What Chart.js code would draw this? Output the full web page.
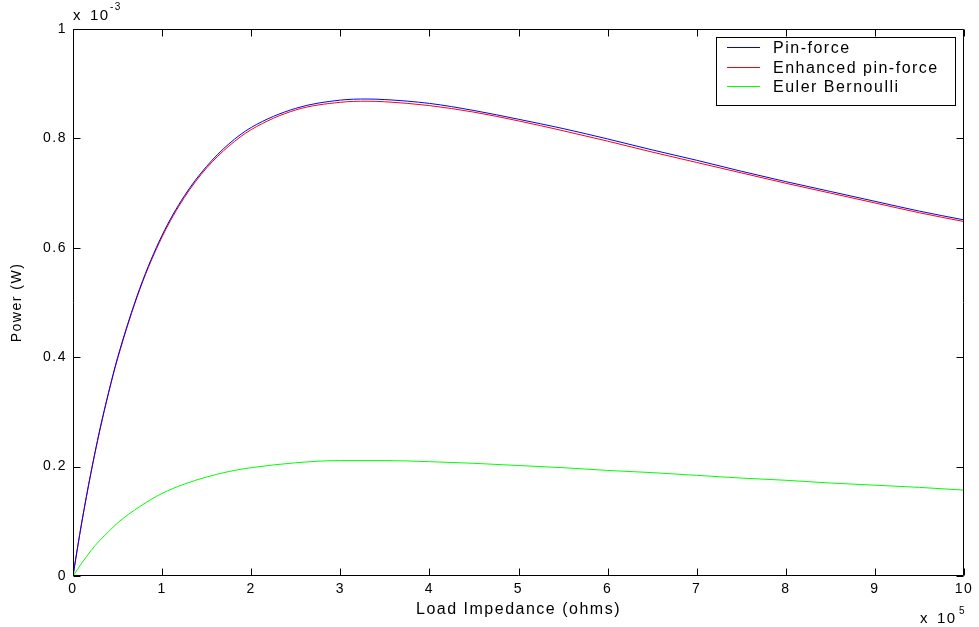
<!DOCTYPE html>
<html><head><meta charset="utf-8">
<script src="https://cdn.jsdelivr.net/npm/chart.js@4.4.1/dist/chart.umd.min.js"></script>
<style>html,body{margin:0;padding:0;background:#fff;overflow:hidden}</style>
</head><body>
<canvas id="c" width="979" height="627"></canvas>
<script>
// Load impedance, in units of 10^5 ohms
const loadImpedance = [0, 0.05, 0.1, 0.2, 0.3, 0.4, 0.5, 0.75, 1, 1.25, 1.5, 1.75, 2, 2.5, 3, 3.3, 3.5, 4, 4.5, 5, 5.5, 6, 6.5, 7, 7.5, 8, 8.5, 9, 9.5, 10];
// Power, in units of 10^-3 W
const pinForce = [0, 0.051, 0.100, 0.188, 0.267, 0.336, 0.399, 0.526, 0.623, 0.695, 0.749, 0.790, 0.820, 0.855, 0.870, 0.872, 0.871, 0.864, 0.851, 0.835, 0.818, 0.799, 0.779, 0.760, 0.740, 0.721, 0.703, 0.685, 0.667, 0.651];
const enhancedPinForce = [0, 0.051, 0.099, 0.187, 0.265, 0.335, 0.397, 0.524, 0.620, 0.692, 0.746, 0.786, 0.816, 0.852, 0.866, 0.868, 0.867, 0.860, 0.848, 0.832, 0.814, 0.795, 0.775, 0.756, 0.737, 0.718, 0.700, 0.682, 0.664, 0.648];
const eulerBernoulli = [0, 0.012, 0.024, 0.046, 0.065, 0.081, 0.097, 0.127, 0.151, 0.168, 0.181, 0.191, 0.198, 0.207, 0.211, 0.211, 0.211, 0.209, 0.206, 0.202, 0.198, 0.193, 0.189, 0.184, 0.179, 0.175, 0.170, 0.166, 0.162, 0.157];
const seriesNames = ['Pin-force', 'Enhanced pin-force', 'Euler Bernoulli'];
const xTickValues = [0, 1, 2, 3, 4, 5, 6, 7, 8, 9, 10];
const yTickValues = [0, 0.2, 0.4, 0.6, 0.8, 1];
const xTitle = 'Load Impedance (ohms)';
const yTitle = 'Power (W)';
const xExponent = '5';
const yExponent = '-3';

const FONT = "'Liberation Sans', Arial, Helvetica, sans-serif";
const LS = '1.5px';
const colors = ['#0000ff', '#ff0000', '#00ff00'];
const seriesValues = [pinForce, enhancedPinForce, eulerBernoulli];

const toPoints = arr => arr.map((v, i) => ({x: loadImpedance[i], y: v}));

const matlabAxes = {
  id: 'matlabAxes',
  beforeDraw(chart) { chart.ctx.letterSpacing = LS; },
  afterDraw(chart) {
    const {ctx, chartArea: a, scales: {x, y}} = chart;
    const L = Math.round(a.left) + 0.5, R = Math.round(a.right) - 0.5;
    const T = Math.round(a.top) + 0.5, B = Math.round(a.bottom) - 0.5;
    ctx.save();
    ctx.strokeStyle = '#000';
    ctx.lineWidth = 1;
    ctx.beginPath();
    ctx.moveTo(L, T); ctx.lineTo(R, T); ctx.lineTo(R, B); ctx.lineTo(L, B); ctx.closePath();
    const tl = 7;
    xTickValues.forEach(v => {
      const px = Math.round(x.getPixelForValue(v)) + 0.5;
      ctx.moveTo(px, B); ctx.lineTo(px, B - tl);
      ctx.moveTo(px, T); ctx.lineTo(px, T + tl);
    });
    yTickValues.forEach(v => {
      const py = Math.round(y.getPixelForValue(v)) + 0.5;
      ctx.moveTo(L, py); ctx.lineTo(L + tl, py);
      ctx.moveTo(R, py); ctx.lineTo(R - tl, py);
    });
    ctx.stroke();

    // Legend
    ctx.fillStyle = '#fff';
    const lx0 = 716.5, ly0 = 37.5, lx1 = 955.5, ly1 = 105.5;
    ctx.fillRect(lx0, ly0, lx1 - lx0, ly1 - ly0);
    ctx.strokeStyle = '#000';
    ctx.strokeRect(lx0, ly0, lx1 - lx0, ly1 - ly0);
    ctx.font = '16px ' + FONT;
    ctx.textBaseline = 'alphabetic';
    ctx.textAlign = 'left';
    const rowBase = [53, 73, 92];
    const rowLine = [47.5, 67.5, 86.5];
    seriesNames.forEach((name, i) => {
      ctx.strokeStyle = colors[i];
      ctx.beginPath(); ctx.moveTo(727, rowLine[i]); ctx.lineTo(760, rowLine[i]); ctx.stroke();
      ctx.fillStyle = '#000';
      ctx.fillText(name, 773, rowBase[i]);
    });

    // Exponent labels
    ctx.fillStyle = '#000';
    ctx.font = '15px ' + FONT;
    ctx.fillText('x', 73, 20);
    ctx.fillText('10', 90, 20);
    ctx.font = '10px ' + FONT;
    ctx.fillText(yExponent, 110, 10);
    ctx.font = '15px ' + FONT;
    ctx.fillText('x', 920, 623);
    ctx.fillText('10', 937, 623);
    ctx.font = '10px ' + FONT;
    ctx.fillText(xExponent, 959, 614);
    ctx.restore();
  }
};

new Chart(document.getElementById('c'), {
  type: 'line',
  data: {
    datasets: seriesNames.map((name, i) => ({
      label: name,
      data: toPoints(seriesValues[i]),
      borderColor: colors[i],
      backgroundColor: colors[i],
      borderWidth: 1,
      pointRadius: 0,
      fill: false,
      cubicInterpolationMode: 'monotone'
    }))
  },
  options: {
    responsive: false,
    devicePixelRatio: 1,
    animation: false,
    layout: {padding: {top: 29, right: 15, left: 0, bottom: 0}},
    plugins: {legend: {display: false}, tooltip: {enabled: false}},
    scales: {
      x: {
        type: 'linear', min: 0, max: 10,
        afterFit: s => { s.height = 51; },
        afterBuildTicks: s => { s.ticks = xTickValues.map(v => ({value: v})); },
        ticks: {color: '#000', padding: 5, maxRotation: 0, autoSkip: false, font: {family: FONT, size: 14},
          callback: v => String(v)},
        grid: {display: false, drawTicks: false},
        border: {display: false},
        title: {display: true, text: xTitle, color: '#000', font: {family: FONT, size: 16}, padding: {top: 0, bottom: 8}}
      },
      y: {
        type: 'linear', min: 0, max: 1,
        afterFit: s => { s.width = 73; },
        afterBuildTicks: s => { s.ticks = yTickValues.map(v => ({value: v})); },
        ticks: {color: '#000', padding: 6, autoSkip: false, font: {family: FONT, size: 14},
          callback: v => (v === 0 ? '0' : v === 1 ? '1' : v.toFixed(1))},
        grid: {display: false, drawTicks: false},
        border: {display: false},
        title: {display: true, text: yTitle, color: '#000', font: {family: FONT, size: 14}, padding: {top: 9, bottom: 0}}
      }
    }
  },
  plugins: [matlabAxes]
});
</script>
</body></html>
